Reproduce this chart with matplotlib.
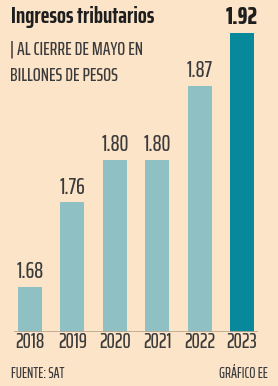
import matplotlib.pyplot as plt

years = ['2018', '2019', '2020', '2021', '2022', '2023']
values = [1.68, 1.76, 1.80, 1.80, 1.87, 1.92]
labels = ['1.68', '1.76', '1.80', '1.80', '1.87', '1.92']

bg = '#fce4c9'
light = '#8fc0c4'
dark = '#07899b'
txt = '#3b3b3b'
narrow = ['Saira ExtraCondensed', 'DejaVu Sans']

fig = plt.figure(figsize=(2.78, 3.86), dpi=100, facecolor=bg)
ax = fig.add_axes([8.8 / 278, 1 - 332 / 386, 254.4 / 278, 332 / 386])
ax.set_facecolor(bg)

colors = [light] * (len(years) - 1) + [dark]
x = range(len(years))
ax.bar(x, values, width=0.57, color=colors, zorder=2)
ax.hlines(1.637, -0.37, 5.37, color='#b9a58e', lw=1.2, zorder=3)

for i, (v, lab) in enumerate(zip(values, labels)):
    last = i == len(years) - 1
    ax.text(i, v + 0.004, lab, ha='center', va='bottom', color='#1e1e1e' if last else txt,
            fontsize=18 if last else 16, fontweight='heavy' if last else 500,
            family=narrow)

ax.set_xlim(-0.5, 5.5)
ax.set_ylim(1.637, 1.951)
ax.set_xticks(list(x))
ax.set_xticklabels(years, family=narrow, fontsize=15, fontweight=500, color=txt)
ax.tick_params(axis='x', length=0, pad=0)
ax.set_yticks([])
for s in ax.spines.values():
    s.set_visible(False)

fig.text(11 / 278, 1 - 17 / 386, 'Ingresos tributarios', ha='left', va='center',
         fontsize=17, fontweight='bold', color='#1e1e1e', family=narrow)
fig.text(10 / 278, 1 - 50 / 386, '| AL CIERRE DE MAYO EN', ha='left', va='center',
         fontsize=13.5, fontweight=500, color=txt, family=narrow)
fig.text(10 / 278, 1 - 76 / 386, 'BILLONES DE PESOS', ha='left', va='center',
         fontsize=13.5, fontweight=500, color=txt, family=narrow)
fig.text(11 / 278, 1 - 374 / 386, 'FUENTE: SAT', ha='left', va='center',
         fontsize=10.5, fontweight=500, color=txt, family=narrow)
fig.text(268 / 278, 1 - 374 / 386, 'GRÁFICO EE', ha='right', va='center',
         fontsize=10.5, fontweight=500, color=txt, family=narrow)

fig.savefig('out.png', dpi=100, facecolor=bg)
